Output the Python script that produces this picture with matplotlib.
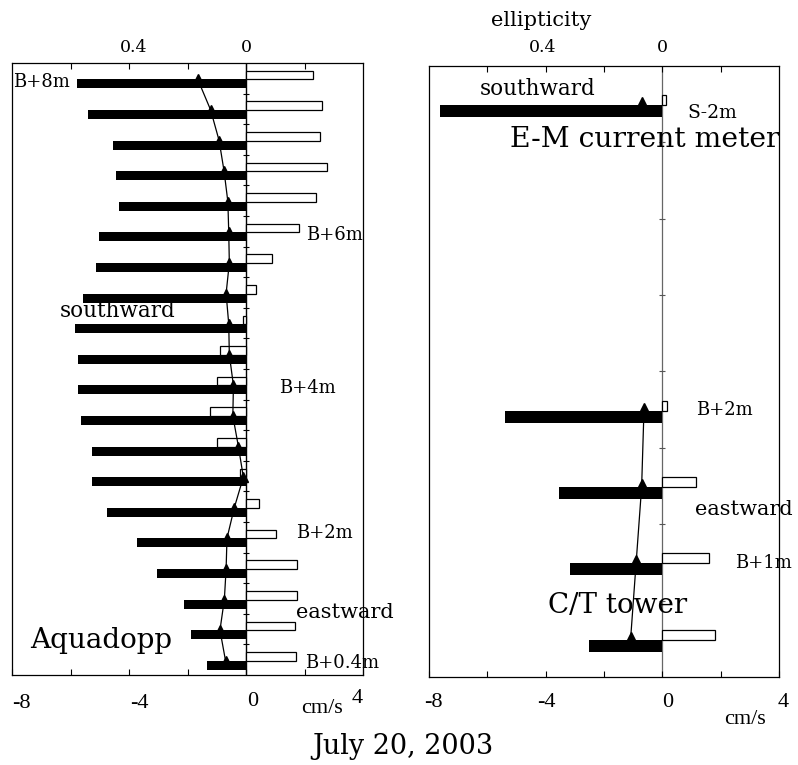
import matplotlib
matplotlib.use("Agg")
import matplotlib.pyplot as plt
from matplotlib.transforms import blended_transform_factory, ScaledTranslation

# ---------------- data ----------------
# Aquadopp (left panel): height above bottom (m)
aq_height = [8.0, 7.6, 7.2, 6.8, 6.4, 6.0, 5.6, 5.2, 4.8, 4.4,
             4.0, 3.6, 3.2, 2.8, 2.4, 2.0, 1.6, 1.2, 0.8, 0.4]
aq_north = [-5.79, -5.39, -4.56, -4.44, -4.33, -5.03, -5.13, -5.58, -5.85, -5.73,
            -5.73, -5.65, -5.28, -5.28, -4.74, -3.72, -3.05, -2.11, -1.89, -1.32]
aq_east = [2.29, 2.60, 2.53, 2.76, 2.39, 1.81, 0.88, 0.33, -0.10, -0.89,
           -0.98, -1.23, -0.98, -0.20, 0.45, 1.03, 1.73, 1.75, 1.68, 1.71]
aq_ellip = [0.165, 0.121, 0.092, 0.075, 0.062, 0.059, 0.057, 0.068, 0.059, 0.057,
            0.043, 0.045, 0.026, 0.009, 0.040, 0.065, 0.068, 0.074, 0.089, 0.070]

# E-M current meter / C/T tower (right panel): slot index from top
rt_labels = ["S-2m", "B+2m", "B+1.5m", "B+1m", "B+0.5m"]
rt_slot = [0, 4, 5, 6, 7]
rt_north = [-7.62, -5.39, -3.54, -3.17, -2.50]
rt_east = [0.11, 0.17, 1.16, 1.59, 1.79]
rt_ellip = [0.071, 0.063, 0.071, 0.090, 0.109]
rt_nslots = 8

x_ticks = [-8, -4, 0, 4]
x_minor = [-6, -2, 2]
ell_ticks = [0.4, 0.0]
ell_minor = [0.6, 0.2, -0.2]

# ---------------- figure ----------------
W, H = 798, 765
fig = plt.figure(figsize=(W / 100, H / 100), dpi=100)
SERIF = ["DejaVu Serif"]
TIMES = ["Liberation Serif"]


def ftext(xpx, ypx, s, size, family=SERIF, ha="left"):
    fig.text(xpx / W, 1 - ypx / H, s, fontsize=size, family=family,
             ha=ha, va="baseline")


def tick_text(ax, xval, ypx, s, dx=0, size=16):
    tr = blended_transform_factory(ax.transData, fig.transFigure) + \
        ScaledTranslation(dx / 100, 0, fig.dpi_scale_trans)
    ax.text(xval, 1 - ypx / H, s, transform=tr, fontsize=size, family=TIMES,
            ha="center", va="baseline", clip_on=False)


def style_axes(ax, axt):
    ax.set_xlim(-8, 4)
    axt.set_xlim(0.8, -0.4)
    ax.set_yticks([])
    ax.set_xticks(x_ticks)
    ax.set_xticks(x_minor, minor=True)
    ax.tick_params(axis="x", which="both", direction="in", length=4, width=0.8,
                   labelbottom=False, top=False)
    axt.set_xticks(ell_ticks)
    axt.set_xticks(ell_minor, minor=True)
    axt.tick_params(axis="x", which="both", direction="in", length=4, width=0.8,
                    labeltop=False, bottom=False)
    for sp in ax.spines.values():
        sp.set_linewidth(0.9)
        sp.set_color("black")
    for sp in axt.spines.values():
        sp.set_visible(False)


# ---------- left panel (Aquadopp) ----------
ax1 = fig.add_axes([12 / W, 1 - 675 / H, 351 / W, 612 / H])
step = aq_height[0] - aq_height[1]
gap = 0.033 * step
bh = 0.294 * step
wh = 0.278 * step
ax1.set_ylim(min(aq_height) - step / 2, max(aq_height) + step / 2)
ax1.axvline(0, color="black", lw=1.0, zorder=0.5)
ax1.barh([h - gap - bh for h in aq_height], aq_north, height=bh, align="edge",
         color="black", lw=0)
ax1.barh([h - gap for h in aq_height], aq_east, height=wh, align="edge",
         facecolor="white", edgecolor="black", lw=0.9)
bounds = [h + step / 2 for h in aq_height[1:]]
ax1.plot([0] * len(bounds), bounds, ls="none", marker="_", ms=5, mew=0.8,
         color="black")
ax1t = ax1.twiny()
ax1t.plot(aq_ellip, [h - gap for h in aq_height], color="black", lw=0.9,
          marker="^", ms=7)
style_axes(ax1, ax1t)

# ---------- right panel (E-M current meter & C/T tower) ----------
ax2 = fig.add_axes([429 / W, 1 - 677 / H, 350 / W, 611 / H])
ax2.set_ylim(rt_nslots - 0.5, -0.5)
g2 = 0.013
bh2 = 0.157
wh2 = 0.131
ax2.axvline(0, color="#666666", lw=0.9, zorder=0.5)
ax2.barh([s + g2 for s in rt_slot], rt_north, height=bh2, align="edge",
         color="black", lw=0)
ax2.barh([s + g2 - wh2 for s in rt_slot], rt_east, height=wh2, align="edge",
         facecolor="white", edgecolor="black", lw=0.9)
bounds2 = [k + 0.5 for k in range(rt_nslots - 1)]
ax2.plot([0] * len(bounds2), bounds2, ls="none", marker="_", ms=5, mew=0.8,
         color="#555555")
ax2t = ax2.twiny()
# surface meter point (alone) and tower profile (connected)
ax2t.plot(rt_ellip[:1], [s + g2 for s in rt_slot[:1]], color="black", lw=0.9,
          marker="^", ms=11, ls="none")
ax2t.plot(rt_ellip[1:], [s + g2 for s in rt_slot[1:]], color="black", lw=0.9,
          marker="^", ms=11)
style_axes(ax2, ax2t)

# ---------- tick labels ----------
left_dx = [9, 10, 7, -6]
left_y = [708, 708, 706, 703]
for v, dx, yb in zip(x_ticks, left_dx, left_y):
    tick_text(ax1, v, yb, str(v), dx=dx)
right_dx = [4, 1, 5, 4]
for v, dx in zip(x_ticks, right_dx):
    tick_text(ax2, v, 707, str(v), dx=dx)
ftext(322, 713, "cm/s", 16, family=TIMES, ha="center")
ftext(745, 724, "cm/s", 16, family=TIMES, ha="center")

# top ellipticity labels
for ax, dxs in ((ax1t, [5, 0]), (ax2t, [-3, 0])):
    for v, dx in zip(ell_ticks, dxs):
        tr = blended_transform_factory(ax.transData, fig.transFigure) + \
            ScaledTranslation(dx / 100, 0, fig.dpi_scale_trans)
        ax.text(v, 1 - 52 / H, "0" if v == 0 else f"{v:g}", transform=tr,
                fontsize=12.5, family=SERIF, ha="center", va="baseline",
                clip_on=False)
ftext(541, 26, "ellipticity", 15, ha="center")

# ---------- annotations ----------
ftext(13, 87, "B+8m", 13)
ftext(306, 240, "B+6m", 13)
ftext(60, 317, "southward", 15.5)
ftext(279, 393, "B+4m", 13)
ftext(296, 538, "B+2m", 13)
ftext(296, 618, "eastward", 15)
ftext(30, 648, "Aquadopp", 20)
ftext(305, 668, "B+0.4m", 13)

ftext(480, 95, "southward", 15.5)
ftext(687, 118, "S-2m", 13.5)
ftext(510, 147, "E-M current meter", 20.3)
ftext(696, 415, "B+2m", 13)
ftext(695, 515, "eastward", 15)
ftext(735, 568, "B+1m", 13)
ftext(548, 613, "C/T tower", 20)

ftext(312, 754, "July 20, 2003", 19.5)

fig.savefig("out.png", dpi=100)
